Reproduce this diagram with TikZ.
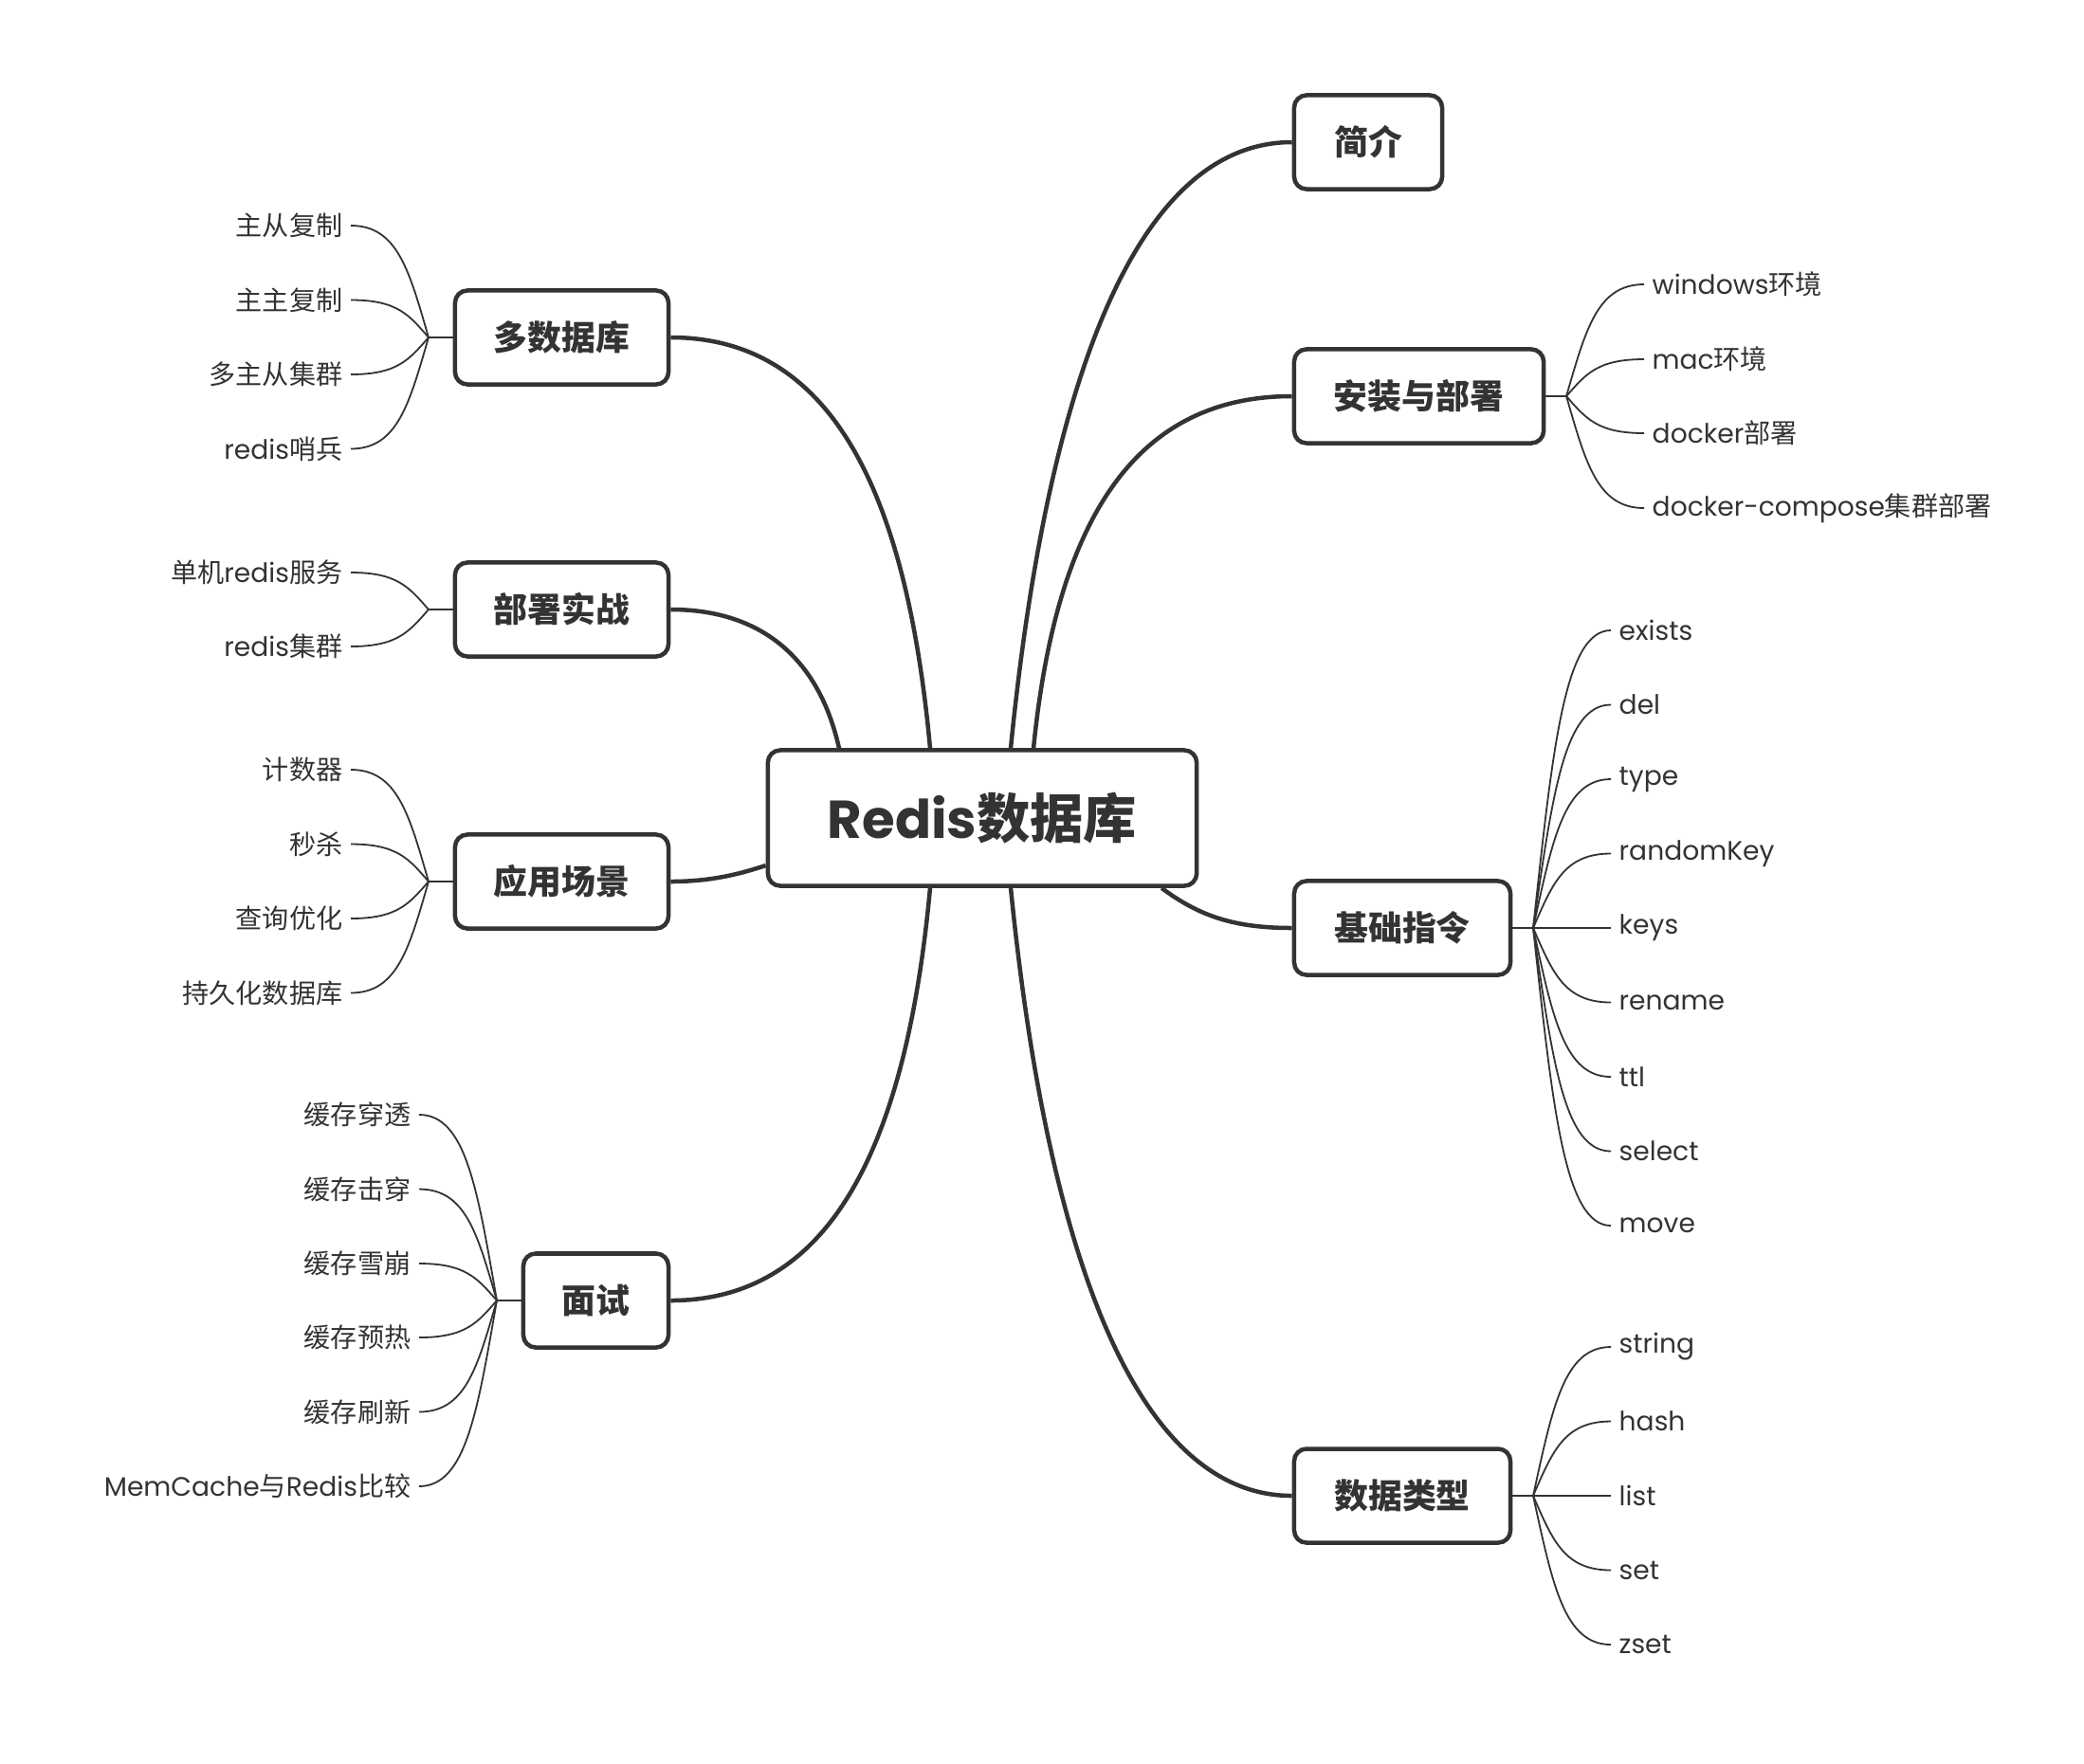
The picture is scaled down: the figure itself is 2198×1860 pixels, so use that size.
\documentclass[tikz,border=0pt]{standalone}
\usepackage{fontspec}
\setmainfont{Noto Sans CJK SC}
\newfontfamily\en{Poppins}
\usetikzlibrary{calc}
\definecolor{ink}{HTML}{333333}

\begin{document}
\begin{tikzpicture}[x=0.01cm, y=-0.01cm, ink,
  topic/.style={draw=ink, line width=0.045cm, rounded corners=0.13cm, fill=white, minimum height=0.99cm, inner sep=0, text=ink, font=\fontsize{10.2}{12}\selectfont\bfseries},
  root/.style={topic, minimum width=4.52cm, minimum height=1.43cm, font=\fontsize{16}{19}\selectfont\bfseries},
  leaf/.style={inner sep=0.08cm, text=ink, font=\fontsize{8}{10}\selectfont},
  branch/.style={draw=ink, line width=0.045cm},
  twig/.style={draw=ink, line width=0.018cm},
  fan/.style={to path={let \p1=(\tikztostart), \p2=(\tikztotarget) in .. controls ({\x1+0.25*(\x2-\x1)},{\y1+0.6*(\y2-\y1)}) and ({\x2-0.6*(\x2-\x1)},\y2) .. (\tikztotarget)}}]
\fill[white] (0,0) rectangle (2198,1860);
\useasboundingbox (0,0) rectangle (2198,1860);

\node[root] (redis) at (1036,863) {{\en Redis}数据库};

\node[topic, minimum width=1.56cm] (intro) at (1443,150) {简介};
\node[topic, minimum width=2.63cm] (install) at (1496.5,418) {安装与部署};
\node[topic, minimum width=2.28cm] (cmd) at (1479,979) {基础指令};
\node[topic, minimum width=2.28cm] (types) at (1479,1578) {数据类型};
\node[topic, minimum width=2.25cm] (multi) at (592.5,356) {多数据库};
\node[topic, minimum width=2.25cm] (deploy) at (592.5,643) {部署实战};
\node[topic, minimum width=2.25cm] (usage) at (592.5,930) {应用场景};
\node[topic, minimum width=1.53cm] (interview) at (628.5,1372) {面试};

\coordinate (installhub) at (1652,418);
\coordinate (cmdhub) at (1617,979);
\coordinate (typeshub) at (1617,1578);
\coordinate (multihub) at (452,356);
\coordinate (deployhub) at (452,643);
\coordinate (usagehub) at (452,930);
\coordinate (interviewhub) at (524,1372);

\node[leaf, anchor=west] (install1) at (1734,300) {{\en windows}环境};
\node[leaf, anchor=west] (install2) at (1734,379) {{\en mac}环境};
\node[leaf, anchor=west] (install3) at (1734,457) {{\en docker}部署};
\node[leaf, anchor=west] (install4) at (1734,536) {{\en docker-compose}集群部署};

\node[leaf, anchor=west] (cmd1) at (1699,665) {\en exists};
\node[leaf, anchor=west] (cmd2) at (1699,743.5) {\en del};
\node[leaf, anchor=west] (cmd3) at (1699,822) {\en type};
\node[leaf, anchor=west] (cmd4) at (1699,900.5) {\en randomKey};
\node[leaf, anchor=west] (cmd5) at (1699,979) {\en keys};
\node[leaf, anchor=west] (cmd6) at (1699,1057.5) {\en rename};
\node[leaf, anchor=west] (cmd7) at (1699,1136) {\en ttl};
\node[leaf, anchor=west] (cmd8) at (1699,1214.5) {\en select};
\node[leaf, anchor=west] (cmd9) at (1699,1293) {\en move};

\node[leaf, anchor=west] (types1) at (1699,1421) {\en string};
\node[leaf, anchor=west] (types2) at (1699,1499.5) {\en hash};
\node[leaf, anchor=west] (types3) at (1699,1578) {\en list};
\node[leaf, anchor=west] (types4) at (1699,1656.5) {\en set};
\node[leaf, anchor=west] (types5) at (1699,1735) {\en zset};

\node[leaf, anchor=east] (multi1) at (370,238) {主从复制};
\node[leaf, anchor=east] (multi2) at (370,316.5) {主主复制};
\node[leaf, anchor=east] (multi3) at (370,395) {多主从集群};
\node[leaf, anchor=east] (multi4) at (370,473.5) {{\en redis}哨兵};

\node[leaf, anchor=east] (deploy1) at (370,604) {单机{\en redis}服务};
\node[leaf, anchor=east] (deploy2) at (370,682) {{\en redis}集群};

\node[leaf, anchor=east] (usage1) at (370,812) {计数器};
\node[leaf, anchor=east] (usage2) at (370,890.5) {秒杀};
\node[leaf, anchor=east] (usage3) at (370,969) {查询优化};
\node[leaf, anchor=east] (usage4) at (370,1047.5) {持久化数据库};

\node[leaf, anchor=east] (interview1) at (442,1176) {缓存穿透};
\node[leaf, anchor=east] (interview2) at (442,1254.5) {缓存击穿};
\node[leaf, anchor=east] (interview3) at (442,1333) {缓存雪崩};
\node[leaf, anchor=east] (interview4) at (442,1411) {缓存预热};
\node[leaf, anchor=east] (interview5) at (442,1489.5) {缓存刷新};
\node[leaf, anchor=east] (interview6) at (442,1568) {{\en MemCache}与{\en Redis}比较};

\draw[branch] ([xshift=0.30cm]redis.north) .. controls +(40,-400) and +(-160,0) .. (intro.west);
\draw[branch] ([xshift=0.54cm]redis.north) .. controls +(25,-250) and +(-160,0) .. (install.west);
\draw[branch] ([xshift=1.89cm]redis.south) .. controls +(40,30) and +(-60,0) .. (cmd.west);
\draw[branch] ([xshift=0.30cm]redis.south) .. controls +(40,400) and +(-160,0) .. (types.west);
\draw[branch] ([xshift=-0.55cm]redis.north) .. controls +(-25,-270) and +(170,0) .. (multi.east);
\draw[branch] ([xshift=-1.51cm]redis.north) .. controls +(-20,-90) and +(100,0) .. (deploy.east);
\draw[branch] ([yshift=-0.50cm]redis.west) .. controls +(-30,10) and +(40,0) .. (usage.east);
\draw[branch] ([xshift=-0.55cm]redis.south) .. controls +(-25,270) and +(170,0) .. (interview.east);

\draw[twig] (install) -- (installhub);
\draw[twig] (installhub) to[fan] (install1.west);
\draw[twig] (installhub) to[fan] (install2.west);
\draw[twig] (installhub) to[fan] (install3.west);
\draw[twig] (installhub) to[fan] (install4.west);

\draw[twig] (cmd) -- (cmdhub);
\draw[twig] (cmdhub) to[fan] (cmd1.west);
\draw[twig] (cmdhub) to[fan] (cmd2.west);
\draw[twig] (cmdhub) to[fan] (cmd3.west);
\draw[twig] (cmdhub) to[fan] (cmd4.west);
\draw[twig] (cmdhub) to[fan] (cmd5.west);
\draw[twig] (cmdhub) to[fan] (cmd6.west);
\draw[twig] (cmdhub) to[fan] (cmd7.west);
\draw[twig] (cmdhub) to[fan] (cmd8.west);
\draw[twig] (cmdhub) to[fan] (cmd9.west);

\draw[twig] (types) -- (typeshub);
\draw[twig] (typeshub) to[fan] (types1.west);
\draw[twig] (typeshub) to[fan] (types2.west);
\draw[twig] (typeshub) to[fan] (types3.west);
\draw[twig] (typeshub) to[fan] (types4.west);
\draw[twig] (typeshub) to[fan] (types5.west);

\draw[twig] (multi) -- (multihub);
\draw[twig] (multihub) to[fan] (multi1.east);
\draw[twig] (multihub) to[fan] (multi2.east);
\draw[twig] (multihub) to[fan] (multi3.east);
\draw[twig] (multihub) to[fan] (multi4.east);

\draw[twig] (deploy) -- (deployhub);
\draw[twig] (deployhub) to[fan] (deploy1.east);
\draw[twig] (deployhub) to[fan] (deploy2.east);

\draw[twig] (usage) -- (usagehub);
\draw[twig] (usagehub) to[fan] (usage1.east);
\draw[twig] (usagehub) to[fan] (usage2.east);
\draw[twig] (usagehub) to[fan] (usage3.east);
\draw[twig] (usagehub) to[fan] (usage4.east);

\draw[twig] (interview) -- (interviewhub);
\draw[twig] (interviewhub) to[fan] (interview1.east);
\draw[twig] (interviewhub) to[fan] (interview2.east);
\draw[twig] (interviewhub) to[fan] (interview3.east);
\draw[twig] (interviewhub) to[fan] (interview4.east);
\draw[twig] (interviewhub) to[fan] (interview5.east);
\draw[twig] (interviewhub) to[fan] (interview6.east);
\end{tikzpicture}
\end{document}
